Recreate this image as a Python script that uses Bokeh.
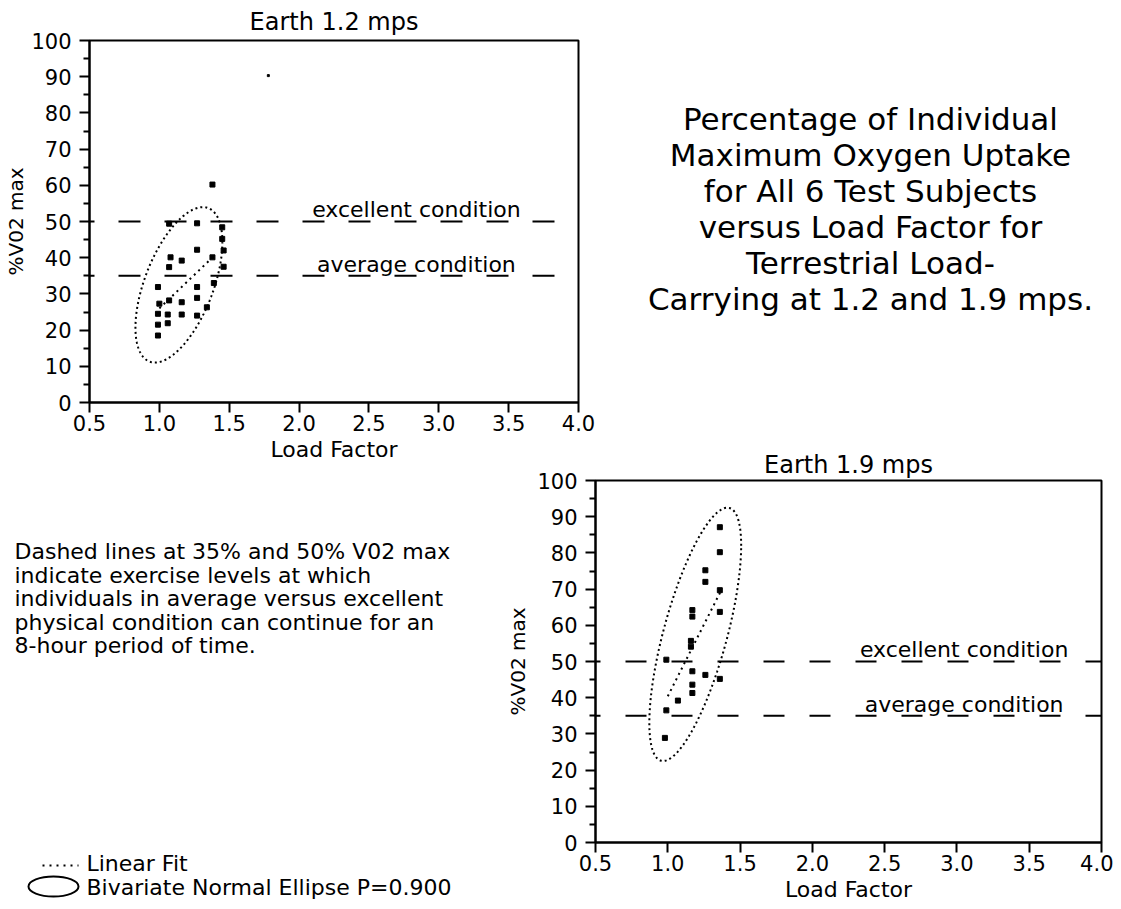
import numpy as np
from bokeh.plotting import figure
from bokeh.layouts import row, column
from bokeh.models import Range1d, FixedTicker, PrintfTickFormatter, Span
from bokeh.core.properties import value
from bokeh.embed import file_html
from bokeh.resources import INLINE

FONT = "DejaVu Sans"

# ------------------------------------------------------------------ data
x_tick_values = [0.5, 1.0, 1.5, 2.0, 2.5, 3.0, 3.5, 4.0]
y_tick_values = [0, 10, 20, 30, 40, 50, 60, 70, 80, 90, 100]
y_minor_values = [5, 15, 25, 35, 45, 55, 65, 75, 85, 95]

titles = ["Earth 1.2 mps", "Earth 1.9 mps"]
x_label = "Load Factor"
y_label = "%V02 max"

# Earth 1.2 mps : load factor vs % of individual VO2 max
load_12 = [1.38, 1.27, 1.07, 1.45, 1.45, 1.27, 1.08, 1.16, 1.07, 1.38, 1.46, 1.46,
           1.39, 1.27, 0.99, 1.07, 1.27, 1.16, 1.16, 1.34, 0.99, 1.06, 0.99, 1.06,
           0.99, 1.27, 1.00]
vo2_12 = [60.2, 49.5, 49.4, 48.4, 45.2, 42.2, 40.1, 39.2, 37.4, 40.1, 42.0, 37.5,
          33.0, 31.9, 31.9, 28.2, 28.9, 27.7, 24.3, 26.3, 24.5, 24.3, 21.5, 21.9,
          18.5, 24.0, 27.3]
speck_12_x = [1.78]
speck_12_y = [90.3]

# Earth 1.9 mps
load_19 = [1.36, 1.36, 1.26, 1.26, 1.36, 1.17, 1.17, 1.36, 1.16, 1.16, 0.99, 1.17,
           1.26, 1.36, 1.17, 1.17, 1.07, 0.99, 0.98]
vo2_19 = [87.1, 80.2, 75.2, 72.0, 69.7, 64.2, 62.4, 63.7, 55.7, 54.1, 50.5, 47.3,
          46.3, 45.2, 43.6, 41.3, 39.2, 36.5, 28.9]

# linear fits (end points)
fit_12_x = [1.00, 1.40]
fit_12_y = [26.0, 40.8]
fit_19_x = [1.00, 1.37]
fit_19_y = [40.4, 69.7]

# bivariate normal ellipse: mean x, mean y, sd x, sd y, correlation
ell_12 = [1.14, 32.5, 0.145, 10.0, 0.55]
ell_19 = [1.19, 57.5, 0.148, 16.3, 0.70]
ellipse_p = 0.900

condition_levels = [50, 35]
condition_names = ["excellent condition", "average condition"]

block_title = ["Percentage of Individual",
               "Maximum Oxygen Uptake",
               "for All 6 Test Subjects",
               "versus Load Factor for",
               "Terrestrial Load-",
               "Carrying at 1.2 and 1.9 mps."]
note_lines = ["Dashed lines at 35% and 50% V02 max",
              "indicate exercise levels at which",
              "individuals in average versus excellent",
              "physical condition can continue for an",
              "8-hour period of time."]
legend_labels = ["Linear Fit", "Bivariate Normal Ellipse P=0.900"]


# ------------------------------------------------------------------ helpers
def ellipse_path(params, prob):
    mx, my, sx, sy, r = params
    k = np.sqrt(-2.0 * np.log(1.0 - prob))
    t = np.linspace(0, 2 * np.pi, 241)
    xs = mx + k * sx * np.cos(t)
    ys = my + k * sy * (r * np.cos(t) + np.sqrt(1 - r * r) * np.sin(t))
    return xs, ys


def make_chart(title, width, height, borders, load, vo2, fit_x, fit_y, ell,
               label_x, ylab_standoff, title_standoff, dash, dash_offset):
    left, right, top, bottom = borders
    p = figure(width=width, height=height, x_range=Range1d(0.5, 4.0),
               y_range=Range1d(0, 100), output_backend="svg",
               toolbar_location=None, title=title,
               min_border_left=left, min_border_right=right,
               min_border_top=top, min_border_bottom=bottom)
    p.title.text_font = FONT
    p.title.text_font_size = "24px"
    p.title.text_font_style = "normal"
    p.title.text_color = "black"
    p.title.align = "center"
    p.title.standoff = title_standoff
    p.grid.visible = False
    p.outline_line_color = "black"
    p.outline_line_width = 2
    p.outline_line_alpha = 1
    p.background_fill_color = None
    p.border_fill_color = None

    xa = p.xaxis[0]
    ya = p.yaxis[0]
    xa.ticker = FixedTicker(ticks=x_tick_values, minor_ticks=[])
    xa.formatter = PrintfTickFormatter(format="%.1f")
    ya.ticker = FixedTicker(ticks=y_tick_values, minor_ticks=y_minor_values)
    xa.axis_label = x_label
    ya.axis_label = y_label
    for ax in (xa, ya):
        ax.axis_line_width = 2
        ax.major_tick_line_width = 2
        ax.minor_tick_line_width = 2
        ax.major_tick_in = 0
        ax.minor_tick_in = 0
        ax.major_tick_out = 10
        ax.minor_tick_out = 6
        ax.major_label_text_font = FONT
        ax.major_label_text_font_size = "21px"
        ax.major_label_text_color = "black"
        ax.axis_label_text_font = FONT
        ax.axis_label_text_font_style = "normal"
        ax.axis_label_text_color = "black"
    xa.axis_label_text_font_size = "22px"
    ya.axis_label_text_font_size = "20px"
    xa.major_label_standoff = 2
    xa.axis_label_standoff = 3
    ya.major_label_standoff = 8
    ya.axis_label_standoff = ylab_standoff

    for lvl in condition_levels:
        p.add_layout(Span(location=lvl, dimension="width", line_color="black",
                          line_width=2, line_dash=dash,
                          line_dash_offset=dash_offset))
    p.text(x=[label_x, label_x], y=[lvl + 3.2 for lvl in condition_levels],
           text=condition_names, text_font=value(FONT), text_font_size="22px",
           text_align="center", text_baseline="middle", text_color="black")

    ex, ey = ellipse_path(ell, ellipse_p)
    p.line(ex, ey, line_color="black", line_width=2, line_dash="2 3")
    p.line(fit_x, fit_y, line_color="black", line_width=2, line_dash="2 4")
    p.scatter(load, vo2, marker="square", size=5, color="black")
    return p


def blank(width, height, xr, yr, borders=(0, 0, 0, 0)):
    left, right, top, bottom = borders
    f = figure(width=width, height=height, x_range=Range1d(*xr), y_range=Range1d(*yr),
               x_axis_type=None, y_axis_type=None, output_backend="svg",
               toolbar_location=None, min_border_left=left, min_border_right=right,
               min_border_top=top, min_border_bottom=bottom)
    f.grid.visible = False
    f.outline_line_color = None
    f.background_fill_color = None
    f.border_fill_color = None
    return f


TOP_H = 468
BOT_Y0 = 446
BOT_H = 462

# ------------------------------------------------------------------ top-left chart
top_fig = make_chart(titles[0], 600, TOP_H, (89, 22, 40, 66), load_12, vo2_12,
                     fit_12_x, fit_12_y, ell_12, 2.84, 0, 10, "22 24", 17)
top_fig.scatter(speck_12_x, speck_12_y, marker="square", size=2, color="black")

# ------------------------------------------------------------------ title block
# its frame coincides with the chart frame beside it (page y 40..402)
text_fig = blank(513, TOP_H, (600, 1113), (402, 40), (0, 0, 40, 66))
line_step = 36
text_fig.text(x=[870] * len(block_title),
              y=[118 + i * line_step for i in range(len(block_title))],
              text=block_title, text_font=value(FONT), text_font_size="31px",
              text_align="center", text_baseline="middle", text_color="black")

# ------------------------------------------------------------------ note + legend
note_fig = blank(503, BOT_H, (0, 503), (BOT_Y0 + BOT_H, BOT_Y0))
note_step = 23.5
note_fig.text(x=[14] * len(note_lines),
              y=[551 + i * note_step for i in range(len(note_lines))],
              text=note_lines, text_font=value(FONT), text_font_size="22px",
              text_align="left", text_baseline="middle", text_color="black")
note_fig.line([42, 78], [865, 865], line_color="black", line_width=2, line_dash="2 5")
note_fig.ellipse(x=[53], y=[886], width=[50], height=[20], width_units="screen",
                 height_units="screen", fill_color=None, line_color="black",
                 line_width=2)
note_fig.text(x=[86, 86], y=[863, 887], text=legend_labels, text_font=value(FONT),
              text_font_size="22px", text_align="left", text_baseline="middle",
              text_color="black")

# ------------------------------------------------------------------ bottom-right chart
bot_fig = make_chart(titles[1], 610, BOT_H, (86, 12, 32, 66), load_19, vo2_19,
                     fit_19_x, fit_19_y, ell_19, 3.05, 4, 4, "21 25", 16)

layout = column(row(top_fig, text_fig),
                row(column(note_fig), bot_fig, margin=(BOT_Y0 - TOP_H, 0, 0, 0)))

open("out.html", "w").write(file_html(layout, INLINE))
